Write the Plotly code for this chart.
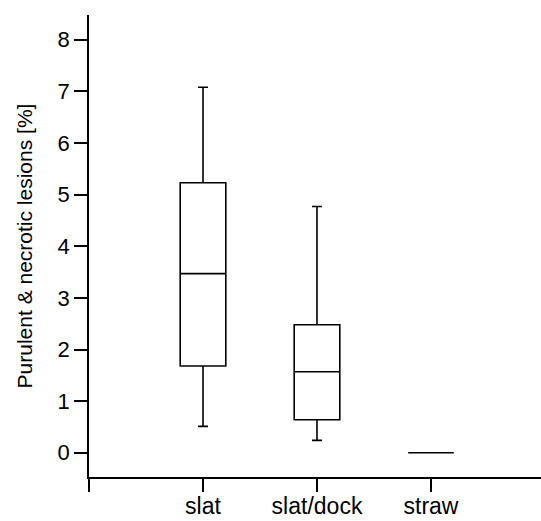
import plotly.graph_objects as go

categories = ["slat", "slat/dock", "straw"]
positions = [0, 1, 2]
lower_whisker = [0.51, 0.24, 0.0]
q1_values = [1.68, 0.64, 0.0]
median_values = [3.47, 1.57, 0.0]
q3_values = [5.23, 2.48, 0.0]
upper_whisker = [7.08, 4.77, 0.0]
y_ticks = [0, 1, 2, 3, 4, 5, 6, 7, 8]

fig = go.Figure()
for i, name in enumerate(categories):
    fig.add_trace(go.Box(
        x=[positions[i]],
        q1=[q1_values[i]], median=[median_values[i]], q3=[q3_values[i]],
        lowerfence=[lower_whisker[i]], upperfence=[upper_whisker[i]],
        width=0.4, whiskerwidth=0.22,
        line=dict(color="black", width=1.6),
        fillcolor="white", name=name, showlegend=False,
        boxpoints=False, hoverinfo="skip",
    ))

fam = "Liberation Sans, Arial, sans-serif"
yfont = dict(family=fam, size=22, color="black")
xfont = dict(family=fam, size=23, color="black")
tfont = dict(family=fam, size=21, color="black")
fig.update_layout(
    width=541, height=521,
    margin=dict(l=89, r=0, t=15, b=44),
    paper_bgcolor="white", plot_bgcolor="white",
    font=yfont,
    xaxis=dict(
        range=[-1, 2.965], automargin=False,
        tickmode="array", tickvals=[-1] + positions, ticktext=[""] + categories,
        showline=True, linecolor="black", linewidth=1.6,
        ticks="outside", ticklen=13, tickwidth=1.6, tickcolor="black",
        showgrid=False, zeroline=False, tickfont=xfont, ticklabelstandoff=-5,
    ),
    yaxis=dict(
        range=[-0.47, 8.48], automargin=False,
        tickmode="array", tickvals=y_ticks,
        showline=True, linecolor="black", linewidth=1.6,
        ticks="outside", ticklen=13, tickwidth=1.6, tickcolor="black",
        showgrid=False, zeroline=False, tickfont=yfont,
        title=dict(text="Purulent & necrotic lesions [%]", font=tfont, standoff=19),
    ),
)
fig.write_html("out.html")
